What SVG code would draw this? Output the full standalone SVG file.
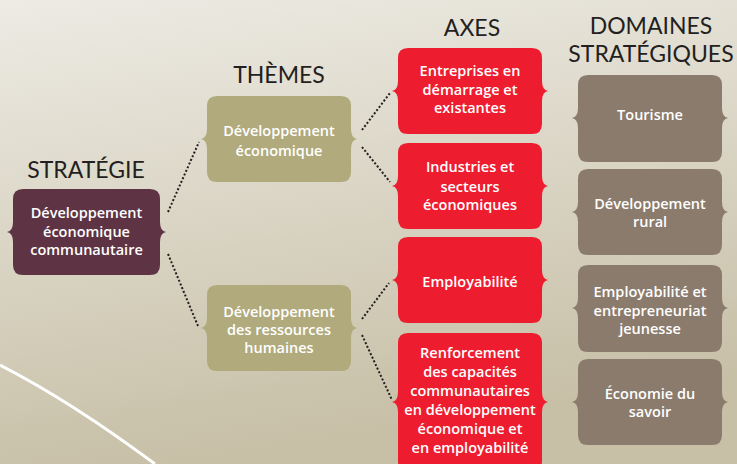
<svg xmlns="http://www.w3.org/2000/svg" width="737" height="464" viewBox="0 0 737 464">
<defs>
<linearGradient id="bg" x1="0" y1="0" x2="0.25" y2="1">
<stop offset="0" stop-color="#EDEBE4"/>
<stop offset="1" stop-color="#C7BFA6"/>
</linearGradient>
<style>
.title{font-family:Lato,"Open Sans","Liberation Sans",sans-serif;font-size:23px;fill:#231F20;text-anchor:middle}
.lbl{font-family:"Open Sans","Liberation Sans",sans-serif;font-size:14.5px;font-weight:600;fill:#FFFFFF;text-anchor:middle}
.strat{fill:#5E3444}
.theme{fill:#B0AA7C}
.axe{fill:#EE1C2F}
.dom{fill:#8B7B6C}
.conn{fill:none;stroke:#231F20;stroke-width:2;stroke-dasharray:2 2}
</style>
</defs>
<rect width="737" height="464" fill="url(#bg)"/>
<path d="M0,365 Q72,402 155,464" fill="none" stroke="#FFFFFF" stroke-width="3"/>
<text class="title" x="86" y="178">STRATÉGIE</text>
<text class="title" x="279" y="83">THÈMES</text>
<text class="title" x="472" y="36">AXES</text>
<text class="title" x="651" y="34">DOMAINES</text>
<text class="title" x="651" y="62">STRATÉGIQUES</text>
<g id="connectors">
<line class="conn" x1="168" y1="212" x2="199" y2="142"/>
<line class="conn" x1="168" y1="254" x2="198" y2="326"/>
<line class="conn" x1="362" y1="130" x2="390" y2="93"/>
<line class="conn" x1="362" y1="147" x2="390" y2="182"/>
<line class="conn" x1="362" y1="319" x2="389" y2="283"/>
<line class="conn" x1="362" y1="335" x2="392" y2="400"/>
</g>
<g id="strategie">
<path class="strat" d="M23,189 H150 Q160,189 160,199 V222 Q160,231 166,232 Q160,233 160,242 V265 Q160,275 150,275 H23 Q13,275 13,265 V242 Q13,233 7,232 Q13,231 13,222 V199 Q13,189 23,189 Z"/>
<text class="lbl" x="86.5" y="218">Développement</text>
<text class="lbl" x="86.5" y="237">économique</text>
<text class="lbl" x="86.5" y="255">communautaire</text>
</g>
<g id="theme1">
<path class="theme" d="M217,96 H341 Q351,96 351,106 V129 Q351,138 357,139 Q351,140 351,149 V172 Q351,182 341,182 H217 Q207,182 207,172 V149 Q207,140 201,139 Q207,138 207,129 V106 Q207,96 217,96 Z"/>
<text class="lbl" x="279" y="136">Développement</text>
<text class="lbl" x="279" y="156">économique</text>
</g>
<g id="theme2">
<path class="theme" d="M217,285 H341 Q351,285 351,295 V318 Q351,327 357,328 Q351,329 351,338 V361 Q351,371 341,371 H217 Q207,371 207,361 V338 Q207,329 201,328 Q207,327 207,318 V295 Q207,285 217,285 Z"/>
<text class="lbl" x="279" y="317">Développement</text>
<text class="lbl" x="279" y="335">des ressources</text>
<text class="lbl" x="279" y="353">humaines</text>
</g>
<g id="axe1">
<path class="axe" d="M408,48 H532 Q542,48 542,58 V81 Q542,90 548,91 Q542,92 542,101 V124 Q542,134 532,134 H408 Q398,134 398,124 V101 Q398,92 392,91 Q398,90 398,81 V58 Q398,48 408,48 Z"/>
<text class="lbl" x="470" y="76">Entreprises en</text>
<text class="lbl" x="470" y="95">démarrage et</text>
<text class="lbl" x="470" y="113">existantes</text>
</g>
<g id="axe2">
<path class="axe" d="M408,143 H532 Q542,143 542,153 V176 Q542,185 548,186 Q542,187 542,196 V219 Q542,229 532,229 H408 Q398,229 398,219 V196 Q398,187 392,186 Q398,185 398,176 V153 Q398,143 408,143 Z"/>
<text class="lbl" x="470" y="172">Industries et</text>
<text class="lbl" x="470" y="192">secteurs</text>
<text class="lbl" x="470" y="210">économiques</text>
</g>
<g id="axe3">
<path class="axe" d="M408,237 H532 Q542,237 542,247 V270 Q542,279 548,280 Q542,281 542,290 V313 Q542,323 532,323 H408 Q398,323 398,313 V290 Q398,281 392,280 Q398,279 398,270 V247 Q398,237 408,237 Z"/>
<text class="lbl" x="470" y="287">Employabilité</text>
</g>
<g id="axe4">
<path class="axe" d="M408,333 H532 Q542,333 542,343 V392 Q542,401 548,402 Q542,403 542,412 V461 Q542,471 532,471 H408 Q398,471 398,461 V412 Q398,403 392,402 Q398,401 398,392 V343 Q398,333 408,333 Z"/>
<text class="lbl" x="470" y="358">Renforcement</text>
<text class="lbl" x="470" y="377">des capacités</text>
<text class="lbl" x="470" y="396">communautaires</text>
<text class="lbl" x="470" y="415">en développement</text>
<text class="lbl" x="470" y="434">économique et</text>
<text class="lbl" x="470" y="453">en employabilité</text>
</g>
<g id="dom1">
<path class="dom" d="M588,75 H712 Q722,75 722,85 V108 Q722,117 728,118 Q722,119 722,128 V152 Q722,162 712,162 H588 Q578,162 578,152 V128 Q578,119 572,118 Q578,117 578,108 V85 Q578,75 588,75 Z"/>
<text class="lbl" x="650" y="120">Tourisme</text>
</g>
<g id="dom2">
<path class="dom" d="M588,169 H712 Q722,169 722,179 V202 Q722,211 728,212 Q722,213 722,222 V245 Q722,255 712,255 H588 Q578,255 578,245 V222 Q578,213 572,212 Q578,211 578,202 V179 Q578,169 588,169 Z"/>
<text class="lbl" x="650" y="209">Développement</text>
<text class="lbl" x="650" y="227">rural</text>
</g>
<g id="dom3">
<path class="dom" d="M588,265 H712 Q722,265 722,275 V298 Q722,307 728,308 Q722,309 722,318 V342 Q722,352 712,352 H588 Q578,352 578,342 V318 Q578,309 572,308 Q578,307 578,298 V275 Q578,265 588,265 Z"/>
<text class="lbl" x="650" y="297">Employabilité et</text>
<text class="lbl" x="650" y="316">entrepreneuriat</text>
<text class="lbl" x="650" y="334">jeunesse</text>
</g>
<g id="dom4">
<path class="dom" d="M588,359 H712 Q722,359 722,369 V392 Q722,401 728,402 Q722,403 722,412 V435 Q722,445 712,445 H588 Q578,445 578,435 V412 Q578,403 572,402 Q578,401 578,392 V369 Q578,359 588,359 Z"/>
<text class="lbl" x="650" y="399">Économie du</text>
<text class="lbl" x="650" y="417">savoir</text>
</g>
</svg>
